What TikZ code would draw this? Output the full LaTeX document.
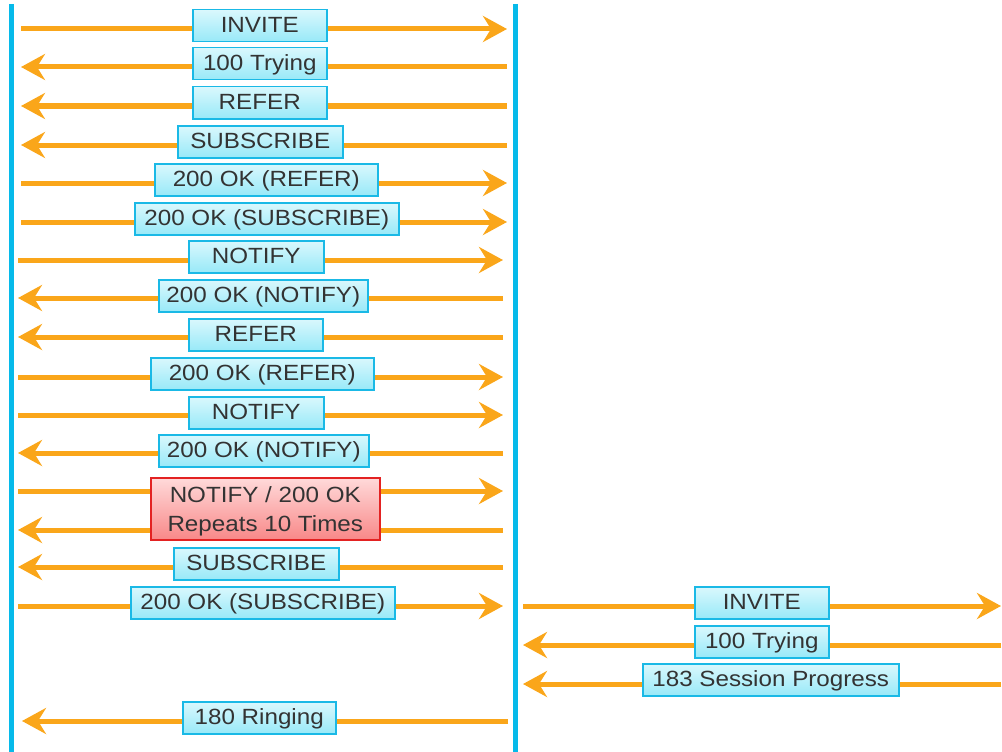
\documentclass[tikz,border=0pt]{standalone}
\usepackage{fontspec}
\setmainfont[FakeStretch=1.1]{Liberation Sans}
\usetikzlibrary{arrows.meta}
\definecolor{life}{HTML}{06BAEA}
\definecolor{arr}{HTML}{FAA61A}
\definecolor{txt}{HTML}{333333}
\definecolor{cytop}{HTML}{DAF8FD}
\definecolor{cybot}{HTML}{98E9F8}
\definecolor{cyline}{HTML}{1AB9E6}
\definecolor{rdtop}{HTML}{FFDADA}
\definecolor{rdbot}{HTML}{F88888}
\definecolor{rdline}{HTML}{E32222}
\tikzset{
  lifeline/.style={draw=life, line width=5pt},
  msg/.style={draw=arr, line width=5pt, -{Stealth[length=24pt, width=26pt, inset=8pt]}},
  boxbase/.style={draw=cyline, line width=1.5pt, top color=cytop, bottom color=cybot,
    text=txt, inner sep=0pt, anchor=north west},
  lbl/.style={boxbase, font=\fontsize{22}{26}\selectfont, text height=18pt, text depth=4pt, minimum height=32pt},
  redlbl/.style={boxbase, draw=rdline, top color=rdtop, bottom color=rdbot, align=center,
    font=\fontsize{22}{29}\selectfont}
}
\begin{document}
\begin{tikzpicture}[x=1pt, y=-1pt]
\useasboundingbox (0,0) rectangle (1002,752);
% lifelines
\coordinate (Lt) at (11.5,4); \coordinate (Lb) at (11.5,752);
\coordinate (Rt) at (515.5,4); \coordinate (Rb) at (515.5,752);
\draw[lifeline] (Lt) -- (Lb);
\draw[lifeline] (Rt) -- (Rb);
% message end points
\foreach \n/\y in {1/29,2/67,3/106,4/145,5/183,6/222} {
  \coordinate (l\n) at (21,\y); \coordinate (r\n) at (507,\y);
}
\foreach \n/\y in {7/260,8/298,9/337,10/377,11/415,12/453,13/491,14/530,15/567,16/606} {
  \coordinate (l\n) at (18,\y); \coordinate (r\n) at (503,\y);
}
\coordinate (l20) at (22,721); \coordinate (r20) at (508,721);
\foreach \n/\y in {17/606,18/645,19/684} {
  \coordinate (l\n) at (523,\y); \coordinate (r\n) at (1001,\y);
}
% arrows
\foreach \n in {1,5,6,7,10,11,13,16,17} { \draw[msg] (l\n) -- (r\n); }
\foreach \n in {2,3,4,8,9,12,14,15,18,19,20} { \draw[msg] (r\n) -- (l\n); }
% labels
\node[lbl, minimum width=134pt] (m1) at (192,9) {INVITE};
\node[lbl, minimum width=134pt] (m2) at (192,47) {100 Trying};
\node[lbl, minimum width=134pt] (m3) at (192,86) {REFER};
\node[lbl, minimum width=165pt] (m4) at (177,125) {SUBSCRIBE};
\node[lbl, minimum width=223pt] (m5) at (154,163) {200 OK (REFER)};
\node[lbl, minimum width=264pt] (m6) at (134,202) {200 OK (SUBSCRIBE)};
\node[lbl, minimum width=135pt] (m7) at (188,240) {NOTIFY};
\node[lbl, minimum width=209pt] (m8) at (158,279) {200 OK (NOTIFY)};
\node[lbl, minimum width=134pt] (m9) at (188,318) {REFER};
\node[lbl, minimum width=223pt] (m10) at (150,357) {200 OK (REFER)};
\node[lbl, minimum width=135pt] (m11) at (188,396) {NOTIFY};
\node[lbl, minimum width=210pt] (m12) at (158,434) {200 OK (NOTIFY)};
\node[redlbl, minimum width=229pt, minimum height=62pt] (m13) at (150,477) {\rule{0pt}{22pt}NOTIFY / 200 OK\\Repeats 10 Times};
\node[lbl, minimum width=165pt] (m15) at (173,547) {SUBSCRIBE};
\node[lbl, minimum width=264pt] (m16) at (130,586) {200 OK (SUBSCRIBE)};
\node[lbl, minimum width=134pt] (m17) at (694,586) {INVITE};
\node[lbl, minimum width=134pt] (m18) at (694,625) {100 Trying};
\node[lbl, minimum width=256pt] (m19) at (642,663) {183 Session Progress};
\node[lbl, minimum width=153pt] (m20) at (182,701) {180 Ringing};
\end{tikzpicture}
\end{document}
